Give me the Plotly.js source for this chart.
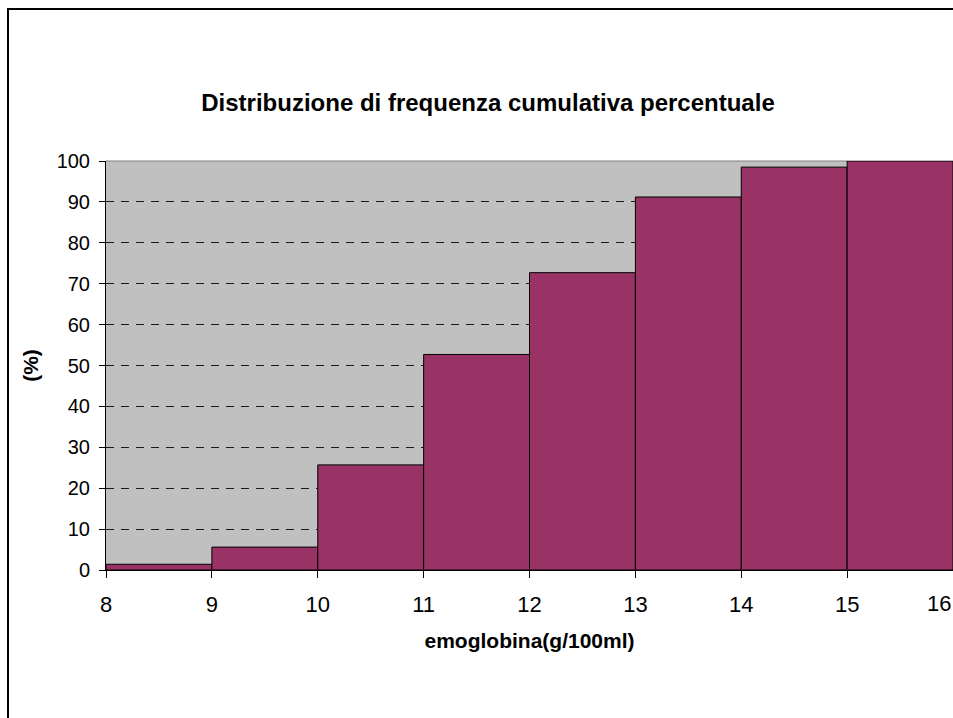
<!DOCTYPE html>
<html>
<head>
<meta charset="utf-8">
<script src="https://cdn.plot.ly/plotly-3.0.1.min.js"></script>
<style>
html,body{margin:0;padding:0;overflow:hidden;background:#fff;width:953px;height:718px;}
#chart{position:absolute;left:0;top:0;width:953px;height:718px;}
#frame{position:absolute;left:7px;top:8px;width:946px;height:710px;border-top:2px solid #000;border-left:2px solid #000;pointer-events:none;box-sizing:border-box;}
</style>
</head>
<body>
<div id="chart"></div>
<div id="frame"></div>
<script>
var binStarts = [8, 9, 10, 11, 12, 13, 14, 15];
var cumulativePct = [1.4, 5.6, 25.7, 52.7, 72.7, 91.2, 98.5, 100];
var xTickVals = [8, 9, 10, 11, 12, 13, 14, 15, 16];
var xTickText = ['8', '9', '10', '11', '12', '13', '14', '15', ''];
var lastXTickText = '16';
var yTickVals = [0, 10, 20, 30, 40, 50, 60, 70, 80, 90, 100];

var trace = {
  type: 'bar',
  x: binStarts,
  y: cumulativePct,
  offset: 0,
  width: binStarts.map(function(){return 1;}),
  marker: {color: '#993366', line: {color: '#000000', width: 1}},
  hoverinfo: 'x+y'
};

var font = 'Liberation Sans, Arial, sans-serif';
var layout = {
  width: 953,
  height: 718,
  margin: {l: 106, r: 0, t: 161, b: 148, pad: 0},
  paper_bgcolor: '#ffffff',
  plot_bgcolor: '#C0C0C0',
  showlegend: false,
  bargap: 0,
  title: {
    text: '<b>Distribuzione di frequenza cumulativa percentuale</b>',
    font: {family: font, size: 24, color: '#000'},
    x: 488/953, xref: 'container', xanchor: 'center',
    y: 1 - 103/718, yref: 'container', yanchor: 'middle'
  },
  xaxis: {
    range: [8, 16],
    tickvals: xTickVals,
    ticktext: xTickText,
    ticks: 'outside', ticklen: 7, tickcolor: '#000', tickwidth: 1,
    ticklabelstandoff: 8,
    showline: true, linecolor: '#000', linewidth: 1,
    showgrid: false, zeroline: false,
    tickfont: {family: font, size: 22, color: '#000'},
    title: {text: '<b>emoglobina(g/100ml)</b>', font: {family: font, size: 21, color: '#000'}, standoff: 16},
    automargin: false, fixedrange: true
  },
  yaxis: {
    range: [0, 100],
    tickvals: yTickVals,
    ticktext: yTickVals.map(String),
    ticks: 'outside', ticklen: 6, tickcolor: '#000', tickwidth: 1,
    ticklabelstandoff: 5,
    showline: true, linecolor: '#000', linewidth: 1,
    showgrid: true, gridcolor: '#1a1a1a', gridwidth: 1, griddash: '8px,7px',
    zeroline: false,
    tickfont: {family: font, size: 20, color: '#000'},
    title: {text: '<b>(%)</b>', font: {family: font, size: 21, color: '#000'}, standoff: 12},
    automargin: false, fixedrange: true
  },
  annotations: [{
    text: lastXTickText, x: 16, xref: 'x', y: 0, yref: 'y',
    xanchor: 'right', yanchor: 'top', yshift: -19, showarrow: false,
    font: {family: font, size: 22, color: '#000'}
  }],
  shapes: [{
    type: 'line', xref: 'paper', yref: 'paper', x0: 0, x1: 1, y0: 1, y1: 1,
    line: {color: '#808080', width: 1}, layer: 'between'
  }]
};

Plotly.newPlot('chart', [trace], layout, {displayModeBar: false, staticPlot: true});
</script>
</body>
</html>
